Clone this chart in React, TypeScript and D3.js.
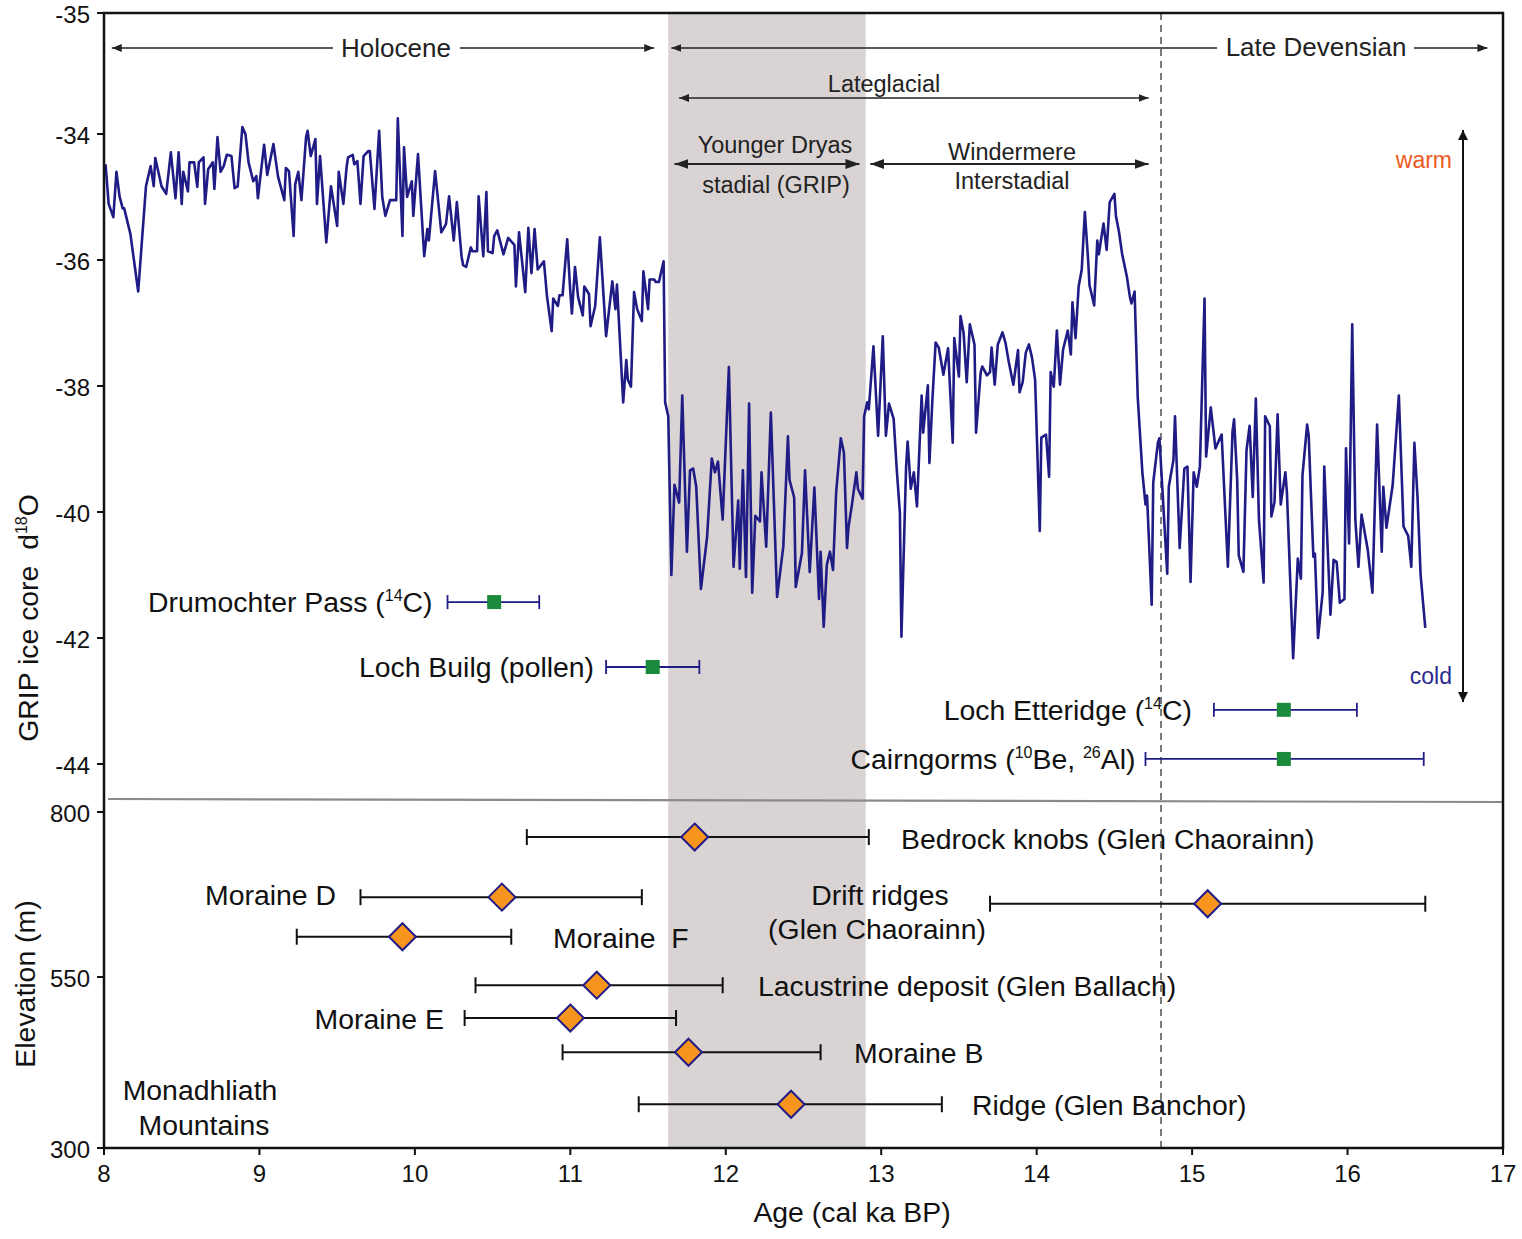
import React from "react";
import * as d3 from "d3";

const W = 1522;
const H = 1239;

// axis ticks
const ageTicks = [8, 9, 10, 11, 12, 13, 14, 15, 16, 17];
const isoTicks = [-32.08, -34, -36, -38, -40, -42, -44];
const isoTickLabels = ["-35", "-34", "-36", "-38", "-40", "-42", "-44"];
const elevTicks = [800, 550, 300];

// GRIP ice core record (age ka BP, d18O permil)
const gripAge = [
  8.01, 8.03, 8.06, 8.08, 8.10, 8.12, 8.13, 8.17, 8.22, 8.27,
  8.30, 8.32, 8.33, 8.37, 8.40, 8.43, 8.46, 8.48, 8.50, 8.51,
  8.54, 8.55, 8.58, 8.60, 8.61, 8.64, 8.65, 8.67, 8.70, 8.71,
  8.73, 8.75, 8.77, 8.79, 8.82, 8.84, 8.86, 8.89, 8.91, 8.93,
  8.96, 8.98, 8.99, 9.03, 9.05, 9.09, 9.12, 9.16, 9.17, 9.19,
  9.22, 9.23, 9.25, 9.27, 9.30, 9.31, 9.33, 9.36, 9.37, 9.39,
  9.43, 9.46, 9.50, 9.51, 9.54, 9.56, 9.57, 9.60, 9.61, 9.63,
  9.65, 9.67, 9.70, 9.71, 9.74, 9.77, 9.79, 9.81, 9.84, 9.88,
  9.89, 9.92, 9.93, 9.95, 9.98, 9.99, 10.02, 10.06, 10.08, 10.09,
  10.13, 10.17, 10.20, 10.22, 10.25, 10.27, 10.30, 10.31, 10.33, 10.36,
  10.37, 10.40, 10.41, 10.44, 10.46, 10.47, 10.50, 10.51, 10.53, 10.57,
  10.60, 10.64, 10.65, 10.67, 10.71, 10.73, 10.75, 10.77, 10.79, 10.83,
  10.85, 10.88, 10.89, 10.92, 10.93, 10.95, 10.98, 11.00, 11.01, 11.03,
  11.05, 11.08, 11.09, 11.12, 11.13, 11.16, 11.19, 11.23, 11.27, 11.29,
  11.30, 11.34, 11.36, 11.37, 11.39, 11.41, 11.43, 11.46, 11.47, 11.50,
  11.51, 11.54, 11.55, 11.57, 11.60, 11.61, 11.63, 11.65, 11.67, 11.70,
  11.72, 11.75, 11.77, 11.79, 11.81, 11.84, 11.86, 11.88, 11.91, 11.93,
  11.95, 11.98, 12.02, 12.05, 12.08, 12.09, 12.11, 12.13, 12.15, 12.17,
  12.19, 12.22, 12.23, 12.26, 12.29, 12.33, 12.37, 12.40, 12.41, 12.44,
  12.45, 12.49, 12.51, 12.54, 12.57, 12.60, 12.61, 12.63, 12.65, 12.67,
  12.69, 12.71, 12.74, 12.76, 12.78, 12.79, 12.81, 12.84, 12.85, 12.88,
  12.89, 12.91, 12.92, 12.95, 12.98, 13.01, 13.03, 13.05, 13.08, 13.10,
  13.12, 13.13, 13.16, 13.17, 13.19, 13.21, 13.23, 13.26, 13.27, 13.30,
  13.31, 13.33, 13.35, 13.37, 13.40, 13.43, 13.46, 13.47, 13.50, 13.51,
  13.53, 13.55, 13.57, 13.60, 13.61, 13.64, 13.65, 13.68, 13.70, 13.71,
  13.73, 13.75, 13.78, 13.80, 13.82, 13.85, 13.88, 13.89, 13.91, 13.93,
  13.95, 13.97, 13.99, 14.02, 14.03, 14.06, 14.08, 14.09, 14.11, 14.13,
  14.15, 14.17, 14.20, 14.22, 14.23, 14.25, 14.27, 14.29, 14.31, 14.33,
  14.34, 14.37, 14.39, 14.40, 14.43, 14.45, 14.47, 14.50, 14.51, 14.53,
  14.55, 14.58, 14.60, 14.61, 14.63, 14.65, 14.68, 14.70, 14.71, 14.74,
  14.75, 14.78, 14.79, 14.84, 14.85, 14.88, 14.89, 14.92, 14.95, 14.97,
  14.99, 15.01, 15.03, 15.05, 15.08, 15.09, 15.12, 15.15, 15.19, 15.23,
  15.26, 15.27, 15.29, 15.30, 15.33, 15.35, 15.37, 15.39, 15.41, 15.43,
  15.46, 15.47, 15.50, 15.51, 15.53, 15.55, 15.57, 15.60, 15.61, 15.65,
  15.68, 15.70, 15.71, 15.74, 15.75, 15.78, 15.79, 15.81, 15.84, 15.85,
  15.89, 15.91, 15.93, 15.95, 15.98, 15.99, 16.01, 16.03, 16.05, 16.07,
  16.09, 16.13, 16.16, 16.19, 16.22, 16.23, 16.25, 16.29, 16.33, 16.36,
  16.39, 16.41, 16.43, 16.45, 16.47, 16.50,
];
const gripD18O = [
  -34.48, -35.11, -35.32, -34.60, -34.99, -35.18, -35.18, -35.59, -36.50, -34.83,
  -34.51, -34.83, -34.38, -34.83, -34.95, -34.29, -35.02, -34.29, -35.11, -34.60,
  -34.91, -34.45, -34.45, -34.84, -34.45, -34.37, -35.11, -34.56, -34.45, -34.87,
  -34.05, -34.60, -34.51, -34.33, -34.35, -34.86, -34.83, -33.89, -34.00, -34.45,
  -34.75, -34.67, -35.02, -34.17, -34.65, -34.16, -34.68, -35.05, -34.54, -34.59,
  -35.62, -34.80, -34.60, -35.05, -34.05, -33.95, -34.35, -34.08, -35.11, -34.35,
  -35.72, -34.83, -35.46, -34.60, -35.11, -34.54, -34.37, -34.33, -34.48, -34.43,
  -35.11, -34.35, -34.27, -34.27, -35.19, -33.95, -35.00, -35.30, -35.05, -35.05,
  -33.75, -35.62, -34.21, -35.00, -34.75, -35.30, -34.32, -35.94, -35.51, -35.69,
  -34.59, -35.56, -35.43, -34.99, -35.69, -35.08, -35.94, -36.08, -36.11, -35.80,
  -35.86, -35.86, -34.99, -35.94, -34.92, -35.86, -35.89, -35.62, -35.53, -35.91,
  -35.65, -35.76, -36.42, -35.56, -36.51, -35.49, -36.21, -35.51, -36.15, -36.02,
  -36.58, -37.13, -36.61, -36.73, -36.56, -36.56, -35.67, -36.51, -36.85, -36.11,
  -36.59, -36.88, -36.42, -36.54, -37.05, -36.73, -35.64, -37.21, -36.34, -36.78,
  -36.39, -38.26, -37.59, -37.90, -38.01, -36.51, -36.78, -36.97, -36.18, -36.78,
  -36.31, -36.31, -36.35, -36.35, -36.02, -38.26, -38.48, -41.00, -39.57, -39.85,
  -38.15, -40.63, -39.34, -39.31, -39.60, -41.22, -40.81, -40.39, -39.15, -39.37,
  -39.20, -40.12, -37.70, -40.87, -39.82, -40.90, -39.34, -41.03, -38.28, -41.28,
  -40.06, -40.15, -39.37, -40.55, -38.42, -41.35, -40.55, -38.80, -39.49, -39.77,
  -41.19, -40.65, -39.34, -40.95, -39.61, -41.38, -40.63, -41.82, -40.84, -40.63,
  -40.92, -39.69, -38.83, -39.06, -40.57, -40.23, -39.91, -39.37, -39.63, -39.79,
  -38.48, -38.26, -38.37, -37.37, -38.79, -37.21, -38.79, -38.28, -38.52, -39.33,
  -40.01, -41.98, -39.28, -38.88, -39.63, -39.37, -39.91, -38.15, -38.74, -37.99,
  -39.22, -38.18, -37.31, -37.39, -37.82, -37.40, -38.90, -37.24, -37.85, -36.89,
  -37.16, -37.94, -37.02, -37.34, -38.74, -37.78, -37.69, -37.83, -37.78, -37.39,
  -37.98, -37.34, -37.15, -37.32, -37.61, -37.98, -37.43, -38.10, -37.94, -37.47,
  -37.34, -37.55, -37.90, -40.30, -38.82, -38.77, -39.44, -37.78, -38.01, -37.12,
  -37.98, -37.42, -37.12, -37.50, -36.67, -37.24, -36.42, -36.15, -35.24, -35.96,
  -36.40, -36.72, -35.69, -35.91, -35.42, -35.84, -35.08, -34.95, -35.30, -35.56,
  -35.91, -36.26, -36.59, -36.69, -36.50, -38.17, -39.37, -39.88, -39.74, -41.47,
  -39.53, -38.90, -38.83, -40.98, -39.60, -39.17, -38.48, -40.57, -39.31, -39.28,
  -41.11, -39.37, -39.60, -39.28, -36.61, -39.12, -38.34, -38.99, -38.77, -40.87,
  -38.72, -38.53, -39.49, -40.69, -40.95, -39.02, -38.63, -39.76, -38.20, -40.12,
  -41.12, -38.48, -38.64, -40.07, -39.84, -38.45, -39.88, -39.37, -39.69, -42.32,
  -40.74, -41.06, -39.42, -38.61, -38.79, -40.71, -40.66, -42.00, -41.27, -39.28,
  -41.63, -40.76, -40.79, -41.44, -41.38, -38.99, -40.50, -37.02, -40.12, -40.87,
  -40.04, -40.60, -41.28, -38.61, -40.63, -39.60, -40.25, -39.58, -38.15, -40.23,
  -40.38, -40.87, -38.90, -39.76, -41.00, -41.84,
];

// dated records plotted against the ice core
const siteAge = [10.51, 11.53, 15.59, 15.59];
const siteMin = [10.21, 11.23, 15.14, 14.70];
const siteMax = [10.80, 11.83, 16.06, 16.49];
const siteD18O = [-41.43, -42.46, -43.14, -43.92];
const siteLabels = [
  [["Drumochter Pass (", false], ["14", true], ["C)", false]],
  [["Loch Builg (pollen)", false]],
  [["Loch Etteridge (", false], ["14", true], ["C)", false]],
  [["Cairngorms (", false], ["10", true], ["Be, ", false], ["26", true], ["Al)", false]],
] as [string, boolean][][];

// Monadhliath landforms (age ka, elevation m)
const landNames = [
  "Bedrock knobs (Glen Chaorainn)",
  "Moraine D",
  "Drift ridges (Glen Chaorainn)",
  "Moraine F",
  "Lacustrine deposit (Glen Ballach)",
  "Moraine E",
  "Moraine B",
  "Ridge (Glen Banchor)",
];
const landAge = [11.80, 10.56, 15.10, 9.92, 11.17, 11.00, 11.76, 12.42];
const landMin = [10.72, 9.65, 13.70, 9.24, 10.39, 10.32, 10.95, 11.44];
const landMax = [12.92, 11.46, 16.50, 10.62, 11.98, 11.68, 12.61, 13.39];
const landElev = [762, 671, 661, 611, 538, 490, 440, 364];

const youngerDryas = [11.63, 12.9];
const boundaryAge = 14.8;

const FONT = "'Liberation Sans', Arial, Helvetica, sans-serif";
const NAVY = "#201c86";
const LABEL_SIZE = 28.4;

const x = d3.scaleLinear().domain([8, 17]).range([104, 1503]);
const yIso = d3.scaleLinear().domain([-44, -34]).range([764, 134]);
const yElev = d3.scaleLinear().domain([300, 550, 800]).range([1148, 977, 812]);

const TOP = 13;
const BOTTOM = 1148;

function SiteLabel({ parts, xEnd, y }: { parts: [string, boolean][]; xEnd: number; y: number }) {
  return (
    <text x={xEnd} y={y} textAnchor="end" fontSize={LABEL_SIZE} fill="#111">
      {parts.map(([t, sup], i) =>
        sup ? (
          <tspan key={i} fontSize={16} dy={-11}>{t}</tspan>
        ) : (
          <tspan key={i} dy={i > 0 && parts[i - 1][1] ? 11 : 0}>{t}</tspan>
        )
      )}
    </text>
  );
}

export default function App() {
  const line = d3
    .line<number>()
    .x((_, i) => x(gripAge[i]))
    .y((d) => yIso(d));

  const siteGap = [15, 12, 22, 10];

  // label placement for the landforms, same order as landNames
  const landLabel = [
    { x: 901, y: 849, anchor: "start", lines: [landNames[0]] },
    { x: 336, y: 905, anchor: "end", lines: [landNames[1]] },
    { x: 880, y: 905, anchor: "middle", lines: ["Drift ridges", "(Glen Chaorainn)"] },
    { x: 553, y: 948, anchor: "start", lines: ["Moraine\u00a0\u00a0F"] },
    { x: 758, y: 996, anchor: "start", lines: [landNames[4]] },
    { x: 444, y: 1029, anchor: "end", lines: [landNames[5]] },
    { x: 854, y: 1063, anchor: "start", lines: [landNames[6]] },
    { x: 972, y: 1115, anchor: "start", lines: [landNames[7]] },
  ];

  const diamond = (cx: number, cy: number, h: number) =>
    `M${cx},${cy - h}L${cx + h},${cy}L${cx},${cy + h}L${cx - h},${cy}Z`;

  return (
    <svg
      width={W}
      height={H}
      style={{ position: "absolute", left: 0, top: 0, display: "block", background: "#fff" }}
      fontFamily={FONT}
    >
      <defs>
        <marker id="arS" viewBox="0 0 10 8" refX={10} refY={4} markerWidth={10} markerHeight={8}
          markerUnits="userSpaceOnUse" orient="auto-start-reverse">
          <path d="M0,0L10,4L0,8Z" fill="#222" />
        </marker>
        <marker id="arL" viewBox="0 0 14 10" refX={14} refY={5} markerWidth={14} markerHeight={10}
          markerUnits="userSpaceOnUse" orient="auto-start-reverse">
          <path d="M0,0L14,5L0,10Z" fill="#222" />
        </marker>
        <marker id="arV" viewBox="0 0 10 10" refX={10} refY={5} markerWidth={10} markerHeight={10}
          markerUnits="userSpaceOnUse" orient="auto-start-reverse">
          <path d="M0,0L10,5L0,10Z" fill="#111" />
        </marker>
      </defs>

      {/* Younger Dryas band */}
      <rect
        x={x(youngerDryas[0])}
        y={TOP}
        width={x(youngerDryas[1]) - x(youngerDryas[0])}
        height={BOTTOM - TOP}
        fill="#d9d3d3"
      />

      {/* boundary dashed line */}
      <line x1={x(boundaryAge)} x2={x(boundaryAge)} y1={TOP} y2={BOTTOM}
        stroke="#7a7a7a" strokeWidth={2} strokeDasharray="7,5" />

      {/* GRIP curve */}
      <path d={line(gripD18O) || ""} fill="none" stroke={NAVY} strokeWidth={2.6} strokeLinejoin="round" />

      {/* panel separator */}
      <line x1={108} x2={1503} y1={799} y2={802} stroke="#8a8a8a" strokeWidth={2.2} />

      {/* dated sites on the ice-core panel */}
      {siteAge.map((a, i) => {
        const cy = yIso(siteD18O[i]);
        const x0 = x(siteMin[i]);
        const x1 = x(siteMax[i]);
        return (
          <g key={"s" + i}>
            <line x1={x0} x2={x1} y1={cy} y2={cy} stroke={NAVY} strokeWidth={1.8} />
            <line x1={x0} x2={x0} y1={cy - 7} y2={cy + 7} stroke={NAVY} strokeWidth={1.8} />
            <line x1={x1} x2={x1} y1={cy - 7} y2={cy + 7} stroke={NAVY} strokeWidth={1.8} />
            <rect x={x(a) - 7} y={cy - 7} width={14} height={14} fill="#1b8a3c" />
            <SiteLabel parts={siteLabels[i]} xEnd={x0 - siteGap[i]} y={cy + 10} />
          </g>
        );
      })}

      {/* landform ages */}
      {landAge.map((a, i) => {
        const cy = yElev(landElev[i]);
        const x0 = x(landMin[i]);
        const x1 = x(landMax[i]);
        return (
          <g key={"l" + i}>
            <line x1={x0} x2={x1} y1={cy} y2={cy} stroke="#111" strokeWidth={2} />
            <line x1={x0} x2={x0} y1={cy - 8} y2={cy + 8} stroke="#111" strokeWidth={2} />
            <line x1={x1} x2={x1} y1={cy - 8} y2={cy + 8} stroke="#111" strokeWidth={2} />
            <path d={diamond(x(a), cy, 13.5)} fill="#f7941d" stroke={NAVY} strokeWidth={2} />
          </g>
        );
      })}
      {landLabel.map((l, i) => (
        <text key={"ll" + i} x={l.x} y={l.y} textAnchor={l.anchor as any} fontSize={LABEL_SIZE} fill="#111">
          {l.lines.map((t, j) => (
            <tspan key={j} x={j === 1 ? l.x - 3 : l.x} dy={j === 0 ? 0 : 34}>{t}</tspan>
          ))}
        </text>
      ))}
      <text x={200} y={1100} textAnchor="middle" fontSize={LABEL_SIZE} fill="#111">Monadhliath</text>
      <text x={204} y={1135} textAnchor="middle" fontSize={LABEL_SIZE} fill="#111">Mountains</text>

      {/* period annotations */}
      <g stroke="#222" strokeWidth={1.5}>
        <line x1={x(8.05)} x2={333} y1={48} y2={48} markerStart="url(#arS)" />
        <line x1={460} x2={x(11.54)} y1={48} y2={48} markerEnd="url(#arS)" />
        <line x1={x(11.65)} x2={1217} y1={48} y2={48} markerStart="url(#arS)" />
        <line x1={1414} x2={x(16.9)} y1={48} y2={48} markerEnd="url(#arS)" />
        <line x1={x(11.7)} x2={x(14.72)} y1={98} y2={98} markerStart="url(#arS)" markerEnd="url(#arS)" />
        <line x1={x(11.67)} x2={x(12.86)} y1={164} y2={164} strokeWidth={2.2} markerStart="url(#arL)" markerEnd="url(#arL)" />
        <line x1={x(12.93)} x2={x(14.72)} y1={164} y2={164} strokeWidth={1.8} markerStart="url(#arL)" markerEnd="url(#arL)" />
      </g>
      <g fill="#222" textAnchor="middle">
        <text x={396} y={57} fontSize={26}>Holocene</text>
        <text x={1316} y={56} fontSize={26}>Late Devensian</text>
        <text x={884} y={92} fontSize={23.5}>Lateglacial</text>
        <text x={775} y={153} fontSize={23.5}>Younger Dryas</text>
        <text x={776} y={193} fontSize={23.5}>stadial (GRIP)</text>
        <text x={1012} y={160} fontSize={23.5}>Windermere</text>
        <text x={1012} y={189} fontSize={23.5}>Interstadial</text>
      </g>

      {/* warm / cold arrow */}
      <line x1={1463} x2={1463} y1={130} y2={702} stroke="#111" strokeWidth={2}
        markerStart="url(#arV)" markerEnd="url(#arV)" />
      <text x={1452} y={168} textAnchor="end" fontSize={23} fill="#ee5a24">warm</text>
      <text x={1452} y={684} textAnchor="end" fontSize={23} fill="#2b2a8e">cold</text>

      {/* frame */}
      <rect x={104} y={TOP} width={1503 - 104} height={BOTTOM - TOP} fill="none" stroke="#111" strokeWidth={2.5} />

      {/* bottom axis */}
      {ageTicks.map((t) => (
        <g key={"xt" + t}>
          <line x1={x(t)} x2={x(t)} y1={BOTTOM} y2={BOTTOM + 7} stroke="#111" strokeWidth={2} />
          <text x={x(t)} y={1182} textAnchor="middle" fontSize={24} fill="#111">{t}</text>
        </g>
      ))}
      <text x={852} y={1222} textAnchor="middle" fontSize={LABEL_SIZE} fill="#111">Age (cal ka BP)</text>

      {/* left axis, ice core */}
      {isoTicks.map((t, i) => (
        <g key={"yt" + i}>
          <line x1={97} x2={104} y1={yIso(t)} y2={yIso(t)} stroke="#111" strokeWidth={2} />
          <text x={90} y={yIso(t) + 10} textAnchor="end" fontSize={24} fill="#111">{isoTickLabels[i]}</text>
        </g>
      ))}
      {/* left axis, elevation */}
      {elevTicks.map((t) => (
        <g key={"et" + t}>
          <line x1={97} x2={104} y1={yElev(t)} y2={yElev(t)} stroke="#111" strokeWidth={2} />
          <text x={90} y={yElev(t) + 10} textAnchor="end" fontSize={24} fill="#111">{t}</text>
        </g>
      ))}

      <text transform="translate(38,618) rotate(-90)" textAnchor="middle" fontSize={LABEL_SIZE} fill="#111">
        <tspan>GRIP ice core{"\u00a0\u00a0"}d</tspan>
        <tspan fontSize={16} dy={-11}>18</tspan>
        <tspan dy={11}>O</tspan>
      </text>
      <text transform="translate(35,984) rotate(-90)" textAnchor="middle" fontSize={LABEL_SIZE} fill="#111">
        Elevation (m)
      </text>
    </svg>
  );
}
